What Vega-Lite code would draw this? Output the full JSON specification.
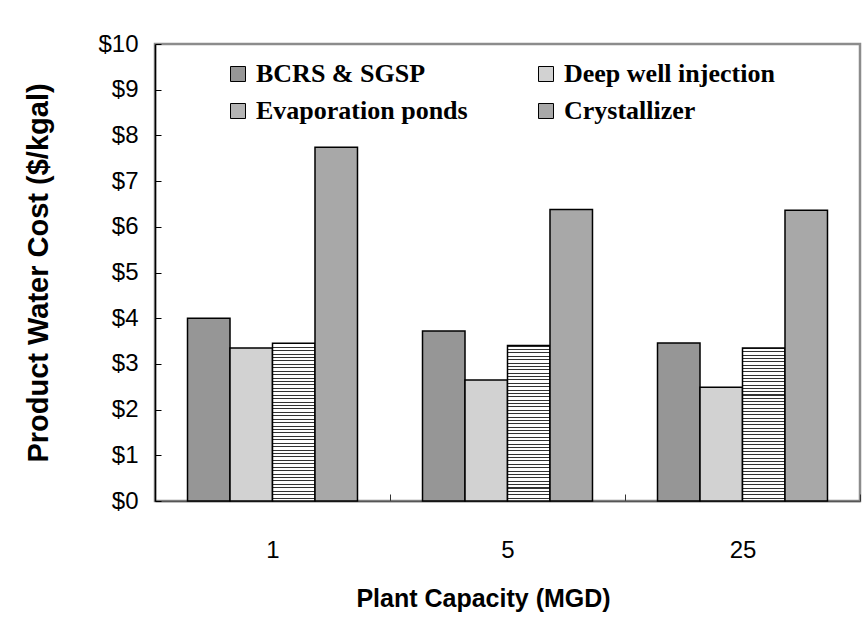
{
  "$schema": "https://vega.github.io/schema/vega-lite/v6.json",
  "width": 705,
  "height": 457,
  "autosize": {"type": "none"},
  "padding": {"left": 155, "top": 44, "right": 7, "bottom": 130},
  "background": "white",
  "config": {
    "font": "Liberation Sans",
    "view": {"stroke": "#8c8c8c", "strokeWidth": 2.5}
  },
  "data": {
    "values": [
      {"capacity": "1", "type": "BCRS & SGSP", "cost": 4.00},
      {"capacity": "1", "type": "Deep well injection", "cost": 3.35},
      {"capacity": "1", "type": "Evaporation ponds", "cost": 3.45},
      {"capacity": "1", "type": "Crystallizer", "cost": 7.74},
      {"capacity": "5", "type": "BCRS & SGSP", "cost": 3.72},
      {"capacity": "5", "type": "Deep well injection", "cost": 2.65},
      {"capacity": "5", "type": "Evaporation ponds", "cost": 3.40},
      {"capacity": "5", "type": "Crystallizer", "cost": 6.38},
      {"capacity": "25", "type": "BCRS & SGSP", "cost": 3.46},
      {"capacity": "25", "type": "Deep well injection", "cost": 2.49},
      {"capacity": "25", "type": "Evaporation ponds", "cost": 3.35},
      {"capacity": "25", "type": "Crystallizer", "cost": 6.36}
    ]
  },
  "mark": {"type": "bar", "stroke": "black", "strokeWidth": 1.5},
  "encoding": {
    "x": {
      "field": "capacity",
      "type": "nominal",
      "sort": ["1", "5", "25"],
      "scale": {"paddingInner": 0, "paddingOuter": 0},
      "axis": {
        "title": "Plant Capacity (MGD)",
        "titleFontSize": 25,
        "titleFontWeight": "bold",
        "titleColor": "black",
        "titlePadding": 24,
        "titleX": 328,
        "titleAlign": "center",
        "labelAngle": 0,
        "labelFontSize": 24,
        "labelColor": "black",
        "labelPadding": 44,
        "tickBand": "extent",
        "tickSize": -7,
        "tickColor": "#333",
        "domainColor": "#555",
        "domainWidth": 1.5
      }
    },
    "xOffset": {
      "field": "type",
      "type": "nominal",
      "sort": ["BCRS & SGSP", "Deep well injection", "Evaporation ponds", "Crystallizer"],
      "scale": {"paddingInner": 0, "paddingOuter": 0.765}
    },
    "y": {
      "field": "cost",
      "type": "quantitative",
      "scale": {"domain": [0, 10], "nice": false},
      "axis": {
        "title": "Product Water Cost ($/kgal)",
        "titleFontSize": 29,
        "titleFontWeight": "bold",
        "titleColor": "black",
        "titlePadding": 44,
        "values": [0, 1, 2, 3, 4, 5, 6, 7, 8, 9, 10],
        "format": "$.0f",
        "labelFontSize": 24,
        "labelColor": "black",
        "labelPadding": 23,
        "grid": false,
        "tickSize": -6,
        "tickColor": "black",
        "domainColor": "black",
        "domainWidth": 1.5
      }
    },
    "fill": {
      "condition": {
        "test": "datum.type === 'Evaporation ponds'",
        "value": {
          "gradient": "linear",
          "x1": 0, "y1": 0, "x2": 0, "y2": 1,
          "stops": [
            {"offset": 0, "color": "#333"}, {"offset": 0.0065, "color": "#333"}, {"offset": 0.0065, "color": "#fff"}, {"offset": 0.0217, "color": "#fff"},
            {"offset": 0.0217, "color": "#333"}, {"offset": 0.0283, "color": "#333"}, {"offset": 0.0283, "color": "#fff"}, {"offset": 0.0435, "color": "#fff"},
            {"offset": 0.0435, "color": "#333"}, {"offset": 0.0500, "color": "#333"}, {"offset": 0.0500, "color": "#fff"}, {"offset": 0.0652, "color": "#fff"},
            {"offset": 0.0652, "color": "#333"}, {"offset": 0.0717, "color": "#333"}, {"offset": 0.0717, "color": "#fff"}, {"offset": 0.0870, "color": "#fff"},
            {"offset": 0.0870, "color": "#333"}, {"offset": 0.0935, "color": "#333"}, {"offset": 0.0935, "color": "#fff"}, {"offset": 0.1087, "color": "#fff"},
            {"offset": 0.1087, "color": "#333"}, {"offset": 0.1152, "color": "#333"}, {"offset": 0.1152, "color": "#fff"}, {"offset": 0.1304, "color": "#fff"},
            {"offset": 0.1304, "color": "#333"}, {"offset": 0.1370, "color": "#333"}, {"offset": 0.1370, "color": "#fff"}, {"offset": 0.1522, "color": "#fff"},
            {"offset": 0.1522, "color": "#333"}, {"offset": 0.1587, "color": "#333"}, {"offset": 0.1587, "color": "#fff"}, {"offset": 0.1739, "color": "#fff"},
            {"offset": 0.1739, "color": "#333"}, {"offset": 0.1804, "color": "#333"}, {"offset": 0.1804, "color": "#fff"}, {"offset": 0.1957, "color": "#fff"},
            {"offset": 0.1957, "color": "#333"}, {"offset": 0.2022, "color": "#333"}, {"offset": 0.2022, "color": "#fff"}, {"offset": 0.2174, "color": "#fff"},
            {"offset": 0.2174, "color": "#333"}, {"offset": 0.2239, "color": "#333"}, {"offset": 0.2239, "color": "#fff"}, {"offset": 0.2391, "color": "#fff"},
            {"offset": 0.2391, "color": "#333"}, {"offset": 0.2457, "color": "#333"}, {"offset": 0.2457, "color": "#fff"}, {"offset": 0.2609, "color": "#fff"},
            {"offset": 0.2609, "color": "#333"}, {"offset": 0.2674, "color": "#333"}, {"offset": 0.2674, "color": "#fff"}, {"offset": 0.2826, "color": "#fff"},
            {"offset": 0.2826, "color": "#333"}, {"offset": 0.2891, "color": "#333"}, {"offset": 0.2891, "color": "#fff"}, {"offset": 0.3043, "color": "#fff"},
            {"offset": 0.3043, "color": "#333"}, {"offset": 0.3109, "color": "#333"}, {"offset": 0.3109, "color": "#fff"}, {"offset": 0.3261, "color": "#fff"},
            {"offset": 0.3261, "color": "#333"}, {"offset": 0.3326, "color": "#333"}, {"offset": 0.3326, "color": "#fff"}, {"offset": 0.3478, "color": "#fff"},
            {"offset": 0.3478, "color": "#333"}, {"offset": 0.3543, "color": "#333"}, {"offset": 0.3543, "color": "#fff"}, {"offset": 0.3696, "color": "#fff"},
            {"offset": 0.3696, "color": "#333"}, {"offset": 0.3761, "color": "#333"}, {"offset": 0.3761, "color": "#fff"}, {"offset": 0.3913, "color": "#fff"},
            {"offset": 0.3913, "color": "#333"}, {"offset": 0.3978, "color": "#333"}, {"offset": 0.3978, "color": "#fff"}, {"offset": 0.4130, "color": "#fff"},
            {"offset": 0.4130, "color": "#333"}, {"offset": 0.4196, "color": "#333"}, {"offset": 0.4196, "color": "#fff"}, {"offset": 0.4348, "color": "#fff"},
            {"offset": 0.4348, "color": "#333"}, {"offset": 0.4413, "color": "#333"}, {"offset": 0.4413, "color": "#fff"}, {"offset": 0.4565, "color": "#fff"},
            {"offset": 0.4565, "color": "#333"}, {"offset": 0.4630, "color": "#333"}, {"offset": 0.4630, "color": "#fff"}, {"offset": 0.4783, "color": "#fff"},
            {"offset": 0.4783, "color": "#333"}, {"offset": 0.4848, "color": "#333"}, {"offset": 0.4848, "color": "#fff"}, {"offset": 0.5000, "color": "#fff"},
            {"offset": 0.5000, "color": "#333"}, {"offset": 0.5065, "color": "#333"}, {"offset": 0.5065, "color": "#fff"}, {"offset": 0.5217, "color": "#fff"},
            {"offset": 0.5217, "color": "#333"}, {"offset": 0.5283, "color": "#333"}, {"offset": 0.5283, "color": "#fff"}, {"offset": 0.5435, "color": "#fff"},
            {"offset": 0.5435, "color": "#333"}, {"offset": 0.5500, "color": "#333"}, {"offset": 0.5500, "color": "#fff"}, {"offset": 0.5652, "color": "#fff"},
            {"offset": 0.5652, "color": "#333"}, {"offset": 0.5717, "color": "#333"}, {"offset": 0.5717, "color": "#fff"}, {"offset": 0.5870, "color": "#fff"},
            {"offset": 0.5870, "color": "#333"}, {"offset": 0.5935, "color": "#333"}, {"offset": 0.5935, "color": "#fff"}, {"offset": 0.6087, "color": "#fff"},
            {"offset": 0.6087, "color": "#333"}, {"offset": 0.6152, "color": "#333"}, {"offset": 0.6152, "color": "#fff"}, {"offset": 0.6304, "color": "#fff"},
            {"offset": 0.6304, "color": "#333"}, {"offset": 0.6370, "color": "#333"}, {"offset": 0.6370, "color": "#fff"}, {"offset": 0.6522, "color": "#fff"},
            {"offset": 0.6522, "color": "#333"}, {"offset": 0.6587, "color": "#333"}, {"offset": 0.6587, "color": "#fff"}, {"offset": 0.6739, "color": "#fff"},
            {"offset": 0.6739, "color": "#333"}, {"offset": 0.6804, "color": "#333"}, {"offset": 0.6804, "color": "#fff"}, {"offset": 0.6957, "color": "#fff"},
            {"offset": 0.6957, "color": "#333"}, {"offset": 0.7022, "color": "#333"}, {"offset": 0.7022, "color": "#fff"}, {"offset": 0.7174, "color": "#fff"},
            {"offset": 0.7174, "color": "#333"}, {"offset": 0.7239, "color": "#333"}, {"offset": 0.7239, "color": "#fff"}, {"offset": 0.7391, "color": "#fff"},
            {"offset": 0.7391, "color": "#333"}, {"offset": 0.7457, "color": "#333"}, {"offset": 0.7457, "color": "#fff"}, {"offset": 0.7609, "color": "#fff"},
            {"offset": 0.7609, "color": "#333"}, {"offset": 0.7674, "color": "#333"}, {"offset": 0.7674, "color": "#fff"}, {"offset": 0.7826, "color": "#fff"},
            {"offset": 0.7826, "color": "#333"}, {"offset": 0.7891, "color": "#333"}, {"offset": 0.7891, "color": "#fff"}, {"offset": 0.8043, "color": "#fff"},
            {"offset": 0.8043, "color": "#333"}, {"offset": 0.8109, "color": "#333"}, {"offset": 0.8109, "color": "#fff"}, {"offset": 0.8261, "color": "#fff"},
            {"offset": 0.8261, "color": "#333"}, {"offset": 0.8326, "color": "#333"}, {"offset": 0.8326, "color": "#fff"}, {"offset": 0.8478, "color": "#fff"},
            {"offset": 0.8478, "color": "#333"}, {"offset": 0.8543, "color": "#333"}, {"offset": 0.8543, "color": "#fff"}, {"offset": 0.8696, "color": "#fff"},
            {"offset": 0.8696, "color": "#333"}, {"offset": 0.8761, "color": "#333"}, {"offset": 0.8761, "color": "#fff"}, {"offset": 0.8913, "color": "#fff"},
            {"offset": 0.8913, "color": "#333"}, {"offset": 0.8978, "color": "#333"}, {"offset": 0.8978, "color": "#fff"}, {"offset": 0.9130, "color": "#fff"},
            {"offset": 0.9130, "color": "#333"}, {"offset": 0.9196, "color": "#333"}, {"offset": 0.9196, "color": "#fff"}, {"offset": 0.9348, "color": "#fff"},
            {"offset": 0.9348, "color": "#333"}, {"offset": 0.9413, "color": "#333"}, {"offset": 0.9413, "color": "#fff"}, {"offset": 0.9565, "color": "#fff"},
            {"offset": 0.9565, "color": "#333"}, {"offset": 0.9630, "color": "#333"}, {"offset": 0.9630, "color": "#fff"}, {"offset": 0.9783, "color": "#fff"},
            {"offset": 0.9783, "color": "#333"}, {"offset": 0.9848, "color": "#333"}, {"offset": 0.9848, "color": "#fff"}, {"offset": 1, "color": "#fff"}
          ]
        }
      },
      "field": "type",
      "type": "nominal",
      "scale": {
        "domain": ["BCRS & SGSP", "Deep well injection", "Evaporation ponds", "Crystallizer"],
        "range": ["#969696", "#d2d2d2", "#b4b4b4", "#a8a8a8"]
      },
      "legend": {
        "title": null,
        "orient": "none",
        "legendX": 70,
        "legendY": 17,
        "direction": "horizontal",
        "columns": 2,
        "padding": 0,
        "symbolType": "square",
        "symbolSize": 225,
        "symbolStrokeColor": "black",
        "symbolStrokeWidth": 1,
        "symbolOpacity": 1,
        "labelFont": "Liberation Serif",
        "labelFontWeight": "bold",
        "labelFontSize": 26,
        "labelColor": "black",
        "labelOffset": 5,
        "labelLimit": 400,
        "columnPadding": 65,
        "rowPadding": 11
      }
    }
  }
}
